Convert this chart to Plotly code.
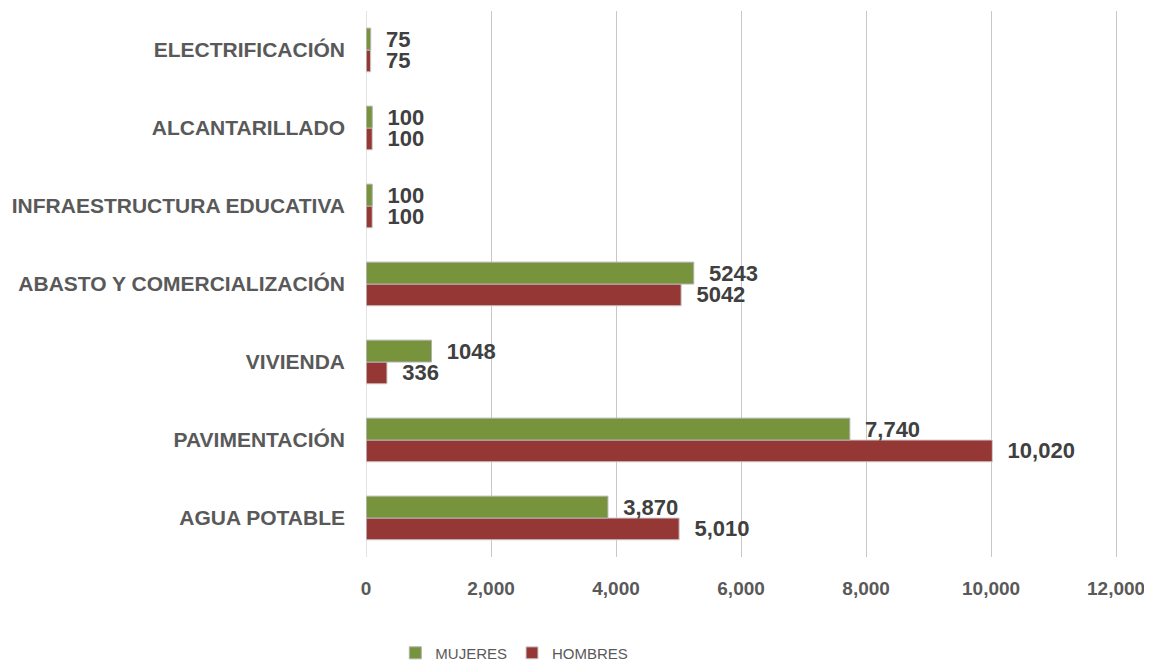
import plotly.graph_objects as go

categorias = ['AGUA POTABLE', 'PAVIMENTACIÓN', 'VIVIENDA', 'ABASTO Y COMERCIALIZACIÓN',
              'INFRAESTRUCTURA EDUCATIVA', 'ALCANTARILLADO', 'ELECTRIFICACIÓN']
mujeres = [3870, 7740, 1048, 5243, 100, 100, 75]
hombres = [5010, 10020, 336, 5042, 100, 100, 75]
mujeres_txt = ['3,870', '7,740', '1048', '5243', '100', '100', '75']
hombres_txt = ['5,010', '10,020', '336', '5042', '100', '100', '75']
ticks = [0, 2000, 4000, 6000, 8000, 10000, 12000]

FONT = 'Liberation Sans, Arial, sans-serif'
label_font = dict(family=FONT, size=22, color='#404040', weight='bold')

fig = go.Figure()
# hombres first so the green bar sits on top in each group
fig.add_trace(go.Bar(y=categorias, x=hombres, name='HOMBRES', orientation='h',
                     marker=dict(color='#953735', line=dict(color='#d0d0d0', width=1)),
                     text=hombres_txt, texttemplate='\u00a0\u00a0%{text}',
                     textposition='outside', textfont=label_font,
                     constraintext='none', cliponaxis=False))
fig.add_trace(go.Bar(y=categorias, x=mujeres, name='MUJERES', orientation='h',
                     marker=dict(color='#77933c', line=dict(color='#b0b0b0', width=1)),
                     text=mujeres_txt, texttemplate='\u00a0\u00a0%{text}',
                     textposition='outside', textfont=label_font,
                     constraintext='none', cliponaxis=False))

# the page body adds an 8px margin, so size/margins are shrunk by that
fig.update_layout(
    width=1144, height=657,
    margin=dict(l=358, r=34, t=3, b=108, autoexpand=False),
    paper_bgcolor='white', plot_bgcolor='white',
    barmode='group', bargap=0.44, bargroupgap=0,
    xaxis=dict(range=[0, 12030], tickvals=ticks, tickformat=',d',
               showgrid=True, gridcolor='#c8c8c8', gridwidth=1,
               zeroline=False, showline=False, ticks='', ticklabelstandoff=18,
               automargin=False,
               tickfont=dict(family=FONT, size=19, color='#595959', weight='bold')),
    yaxis=dict(showgrid=False, showline=False, ticks='', ticklabelstandoff=20,
               automargin=False,
               tickfont=dict(family=FONT, size=21, color='#595959', weight='bold')),
    legend=dict(orientation='h', x=0.039, xanchor='left', y=-0.176, yanchor='middle',
                traceorder='reversed', itemwidth=30,
                font=dict(family=FONT, size=15, color='#595959')),
    showlegend=True,
)
fig.add_vline(x=0, line=dict(color='#c8c8c8', width=1))

fig.write_html("out.html")
